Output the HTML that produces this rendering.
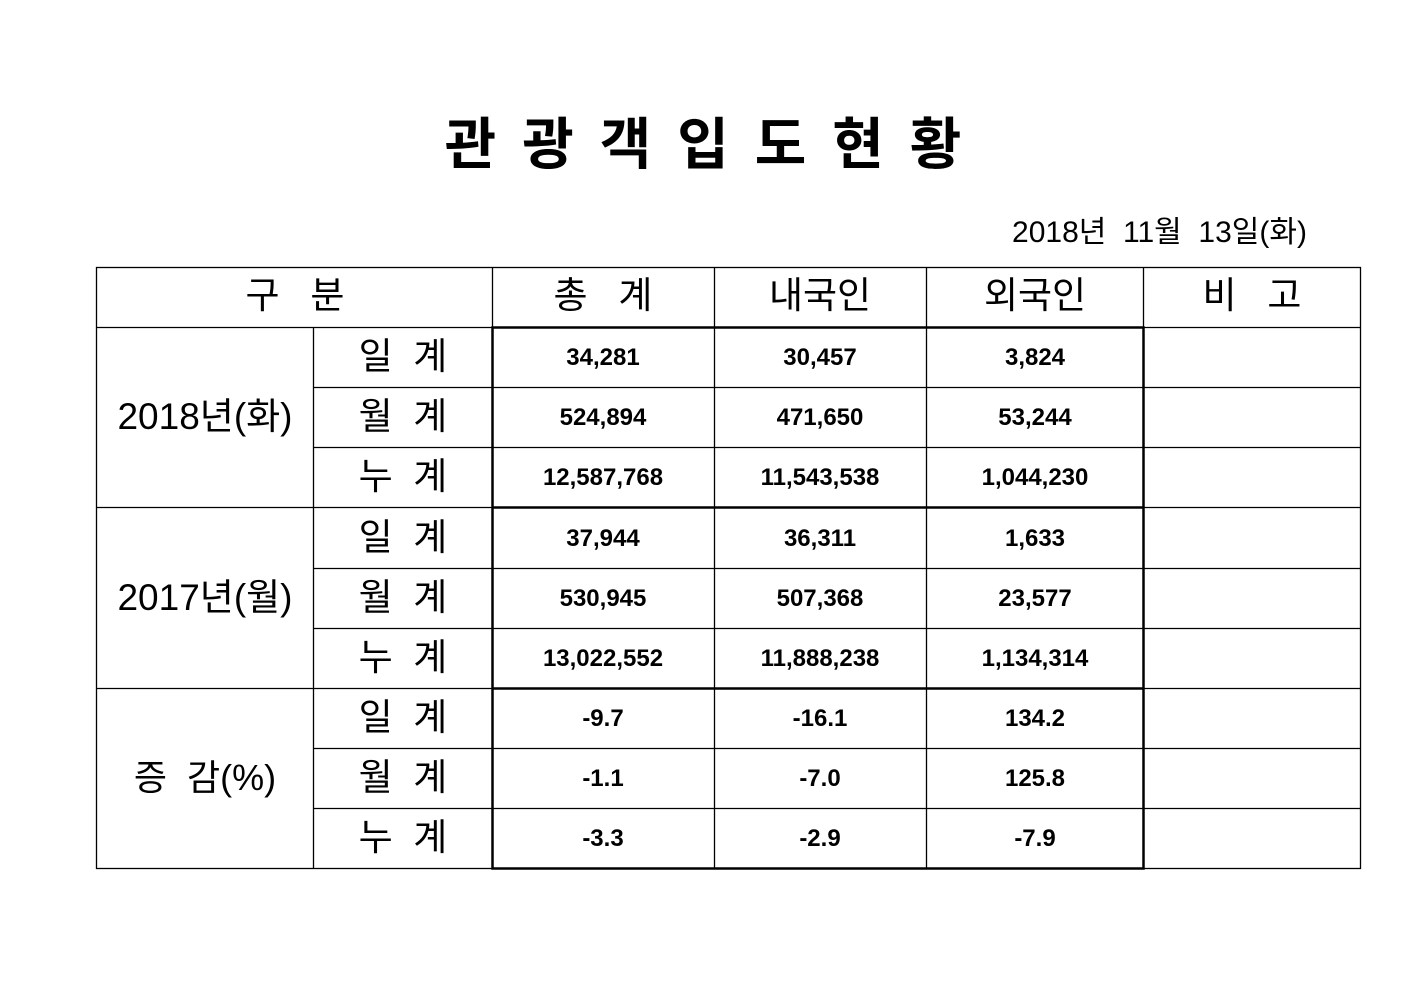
<!DOCTYPE html>
<html><head><meta charset="utf-8"><style>
html,body{margin:0;padding:0;background:#fff;}
svg{display:block;}
text{font-family:"Liberation Sans","Noto Sans CJK KR",sans-serif;fill:#000;}
.n{font-size:24px;font-weight:bold;text-anchor:middle;}
.h{font-size:37px;text-anchor:middle;}
</style></head><body>
<svg width="1403" height="992" xmlns="http://www.w3.org/2000/svg">
<text x="716" y="164" text-anchor="middle" style="font-size:56px;font-weight:bold;letter-spacing:26px;font-family:'Noto Sans CJK KR',sans-serif">관광객입도현황</text>
<text x="1307" y="242" text-anchor="end" style="font-size:30px">2018년&#160;&#160;11월&#160;&#160;13일(화)</text>
<g stroke="#000" stroke-width="1.3" fill="none">
<rect x="96.5" y="267.5" width="1264" height="601"/>
<line x1="96" y1="327.5" x2="1360" y2="327.5"/>
<line x1="313" y1="387.5" x2="1360" y2="387.5"/>
<line x1="313" y1="447.5" x2="1360" y2="447.5"/>
<line x1="96" y1="507.5" x2="1360" y2="507.5"/>
<line x1="313" y1="568.5" x2="1360" y2="568.5"/>
<line x1="313" y1="628.5" x2="1360" y2="628.5"/>
<line x1="96" y1="688.5" x2="1360" y2="688.5"/>
<line x1="313" y1="748.5" x2="1360" y2="748.5"/>
<line x1="313" y1="808.5" x2="1360" y2="808.5"/>
<line x1="313.5" y1="327" x2="313.5" y2="868"/>
<line x1="492.5" y1="267" x2="492.5" y2="868"/>
<line x1="714.5" y1="267" x2="714.5" y2="868"/>
<line x1="926.5" y1="267" x2="926.5" y2="868"/>
<line x1="1143.5" y1="267" x2="1143.5" y2="868"/>
</g>
<g stroke="#000" stroke-width="2.5" fill="none">
<rect x="492.5" y="327.5" width="651" height="541"/>
<line x1="492" y1="507.5" x2="1143" y2="507.5"/>
<line x1="492" y1="688.5" x2="1143" y2="688.5"/>
</g>
<text class="h" x="295" y="308">구&#160;&#160;&#160;분</text>
<text class="h" x="603" y="308">총&#160;&#160;&#160;계</text>
<text class="h" x="820" y="308">내국인</text>
<text class="h" x="1035" y="308">외국인</text>
<text class="h" x="1252" y="308">비&#160;&#160;&#160;고</text>
<text class="h" x="403" y="369">일&#160;&#160;계</text>
<text class="h" x="403" y="429">월&#160;&#160;계</text>
<text class="h" x="403" y="489">누&#160;&#160;계</text>
<text class="h" x="403" y="550">일&#160;&#160;계</text>
<text class="h" x="403" y="610">월&#160;&#160;계</text>
<text class="h" x="403" y="670">누&#160;&#160;계</text>
<text class="h" x="403" y="730">일&#160;&#160;계</text>
<text class="h" x="403" y="790">월&#160;&#160;계</text>
<text class="h" x="403" y="850">누&#160;&#160;계</text>
<text x="205" y="429" text-anchor="middle" style="font-size:37px">2018년(화)</text>
<text x="205" y="610" text-anchor="middle" style="font-size:37px">2017년(월)</text>
<text x="205" y="790" text-anchor="middle" style="font-size:36px">증&#160;&#160;감(%)</text>
<g>
<text class="n" x="603" y="365">34,281</text><text class="n" x="820" y="365">30,457</text><text class="n" x="1035" y="365">3,824</text>
<text class="n" x="603" y="425">524,894</text><text class="n" x="820" y="425">471,650</text><text class="n" x="1035" y="425">53,244</text>
<text class="n" x="603" y="485">12,587,768</text><text class="n" x="820" y="485">11,543,538</text><text class="n" x="1035" y="485">1,044,230</text>
<text class="n" x="603" y="546">37,944</text><text class="n" x="820" y="546">36,311</text><text class="n" x="1035" y="546">1,633</text>
<text class="n" x="603" y="606">530,945</text><text class="n" x="820" y="606">507,368</text><text class="n" x="1035" y="606">23,577</text>
<text class="n" x="603" y="666">13,022,552</text><text class="n" x="820" y="666">11,888,238</text><text class="n" x="1035" y="666">1,134,314</text>
<text class="n" x="603" y="726">-9.7</text><text class="n" x="820" y="726">-16.1</text><text class="n" x="1035" y="726">134.2</text>
<text class="n" x="603" y="786">-1.1</text><text class="n" x="820" y="786">-7.0</text><text class="n" x="1035" y="786">125.8</text>
<text class="n" x="603" y="846">-3.3</text><text class="n" x="820" y="846">-2.9</text><text class="n" x="1035" y="846">-7.9</text>
</g>
</svg>
</body></html>
